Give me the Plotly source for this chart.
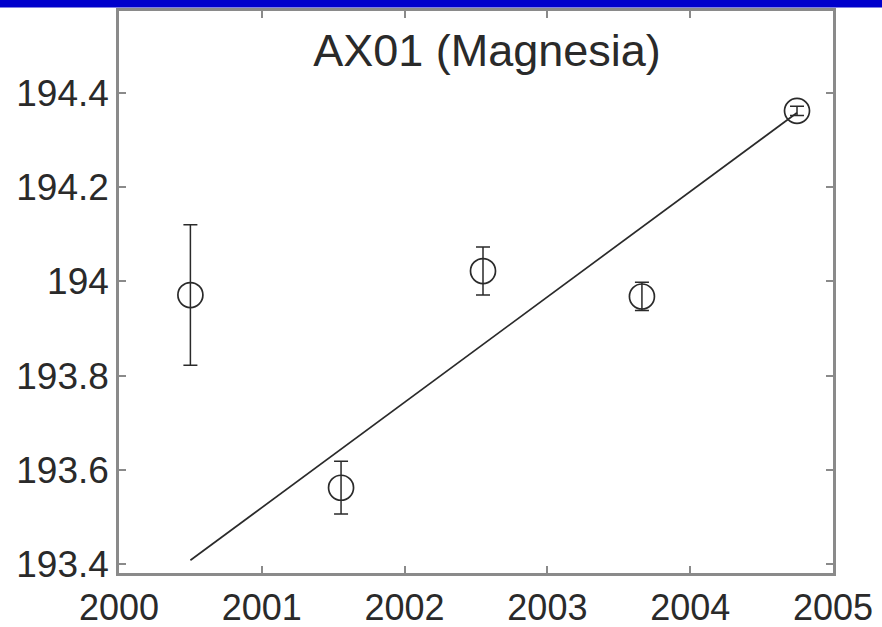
import plotly.graph_objects as go

# Yearly measurements with their uncertainties
years = [2000.50, 2001.555, 2002.549, 2003.662, 2004.748]
values = [193.971, 193.562, 194.022, 193.968, 194.362]
errors = [0.149, 0.056, 0.051, 0.030, 0.010]

# Linear trend line endpoints
trend_x = [2000.50, 2004.748]
trend_y = [193.408, 194.358]

x_ticks = [2000, 2001, 2002, 2003, 2004, 2005]
y_ticks = [193.4, 193.6, 193.8, 194.0, 194.2, 194.4]
y_tick_text = ["193.4", "193.6", "193.8", "194", "194.2", "194.4"]

W, H = 882, 627
ML, MR, MT, MB = 119, 49, 11, 54
PW, PH = W - ML - MR, H - MT - MB

ink = "#2a2a2a"
font_family = "Liberation Sans, Arial, Helvetica, sans-serif"

fig = go.Figure()

fig.add_trace(go.Scatter(
    x=trend_x, y=trend_y, mode="lines",
    line=dict(color=ink, width=1.7),
    showlegend=False, hoverinfo="skip",
))

fig.add_trace(go.Scatter(
    x=years, y=values, mode="markers",
    marker=dict(symbol="circle-open", size=25, color=ink, line=dict(width=1.7, color=ink)),
    error_y=dict(type="data", array=errors, visible=True, color=ink, thickness=1.5, width=7),
    showlegend=False,
))

axis_common = dict(
    showline=True, linecolor="#8a8a8a", linewidth=2.5, mirror="ticks",
    ticks="inside", ticklen=7, tickwidth=1.5, tickcolor="#8a8a8a",
    showgrid=False, zeroline=False, automargin=False,
)

fig.update_xaxes(range=[2000, 2005], tickvals=x_ticks,
                 ticktext=[str(t) for t in x_ticks],
                 ticklabelstandoff=1,
                 tickfont=dict(family=font_family, size=36, color=ink),
                 **axis_common)
fig.update_yaxes(range=[193.381, 194.574], tickvals=y_ticks,
                 ticktext=y_tick_text,
                 tickfont=dict(family=font_family, size=37, color=ink),
                 **axis_common)

# Blue banner across the top edge
fig.add_shape(type="rect", xref="paper", yref="paper",
              x0=-ML / PW, x1=1 + MR / PW,
              y0=1 + (MT - 7.5) / PH, y1=1 + MT / PH,
              fillcolor="#0000cc", line=dict(width=0), layer="above")

fig.update_layout(
    width=W, height=H,
    margin=dict(l=ML, r=MR, t=MT, b=MB, autoexpand=False),
    paper_bgcolor="white", plot_bgcolor="white",
    title=dict(text="AX01 (Magnesia)", x=(487 - ML) / PW, xanchor="center",
               xref="paper", yref="paper",
               y=(PH - (50 - MT)) / PH, yanchor="middle",
               font=dict(family=font_family, size=45, color=ink)),
)

fig.write_html("out.html")
